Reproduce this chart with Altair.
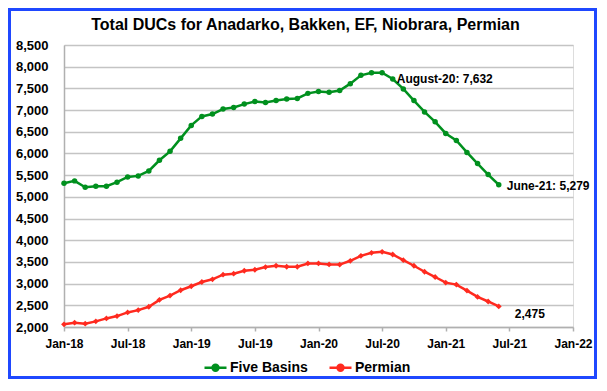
import altair as alt
import pandas as pd

# Month index 0 = Jan-18 ... 41 = Jun-21
five_basins = [5314, 5368, 5222, 5245, 5245, 5337, 5460, 5483, 5597, 5843, 6049, 6348,
               6647, 6854, 6908, 7023, 7061, 7138, 7199, 7176, 7222, 7253, 7268, 7385,
               7428, 7410, 7450, 7609, 7801, 7862, 7862, 7717, 7487, 7219, 6958, 6729,
               6461, 6300, 6024, 5766, 5513, 5279]
permian = [2061, 2099, 2076, 2130, 2198, 2252, 2336, 2389, 2466, 2626, 2725, 2847,
           2939, 3038, 3099, 3206, 3229, 3297, 3320, 3381, 3412, 3389, 3389, 3465,
           3465, 3442, 3438, 3526, 3640, 3709, 3732, 3671, 3541, 3412, 3274, 3152,
           3022, 2977, 2839, 2694, 2588, 2475]
series_names = ["Five Basins", "Permian"]
series_colors = ["#00901e", "#ff2a1f"]
tick_labels = ["Jan-18", "Jul-18", "Jan-19", "Jul-19", "Jan-20", "Jul-20",
               "Jan-21", "Jul-21", "Jan-22"]
y_ticks = [2000, 2500, 3000, 3500, 4000, 4500, 5000, 5500, 6000, 6500, 7000, 7500, 8000, 8500]
title_text = "Total DUCs for Anadarko, Bakken, EF, Niobrara, Permian"
ann_peak = ("August-20: 7,632", 31)
ann_end_five = ("June-21: 5,279", 41)
ann_end_perm = ("2,475", 41)

rows = []
for i, v in enumerate(five_basins):
    rows.append({"m": i, "v": v, "s": series_names[0]})
for i, v in enumerate(permian):
    rows.append({"m": i, "v": v, "s": series_names[1]})
df = pd.DataFrame(rows)

W, H = 509, 282
FONT = "Liberation Sans"
label_expr = "[" + ",".join(f"'{t}'" for t in tick_labels) + "][round(datum.value/6)]"

x_enc = alt.X("m:Q", scale=alt.Scale(domain=[0, 48], nice=False, zero=False),
              axis=alt.Axis(values=list(range(0, 49, 6)), labelExpr=label_expr, title=None,
                            grid=False, tickSize=4, tickColor="#b0b0b0", tickWidth=1.5,
                            domainColor="#b0b0b0", domainWidth=1.5, labelFlush=False,
                            labelOverlap=False,
                            labelFont=FONT, labelFontSize=12, labelFontWeight="bold",
                            labelColor="black", labelPadding=7))
y_enc = alt.Y("v:Q", scale=alt.Scale(domain=[2000, 8500], nice=False, zero=False),
              axis=alt.Axis(values=y_ticks, format=",.0f", title=None, grid=True,
                            gridColor="#c4c4c4", gridWidth=1.5, tickSize=0,
                            domainColor="#b0b0b0", domainWidth=1.5, labelFlush=False,
                            labelOverlap=False,
                            labelFont=FONT, labelFontSize=13, labelFontWeight="bold",
                            labelColor="black", labelPadding=16))
legend_symbol = "M-1,0H1 M-0.27,0 A0.27,0.27 0 1,0 0.27,0 A0.27,0.27 0 1,0 -0.27,0 Z"
color_enc = alt.Color("s:N", scale=alt.Scale(domain=series_names, range=series_colors),
                      legend=alt.Legend(title=None, orient="none", direction="horizontal",
                                        legendX=139, legendY=310, symbolType=legend_symbol,
                                        symbolSize=484, symbolStrokeWidth=2.5,
                                        labelFont=FONT, labelFontSize=14,
                                        labelFontWeight="bold", labelColor="black",
                                        labelOffset=2, columnPadding=16))
color_nolegend = alt.Color("s:N", scale=alt.Scale(domain=series_names, range=series_colors),
                           legend=None)

base = alt.Chart(df)
lines = base.mark_line(strokeWidth=2.5).encode(x=x_enc, y=y_enc, color=color_enc)
pts_five = base.transform_filter(alt.datum.s == series_names[0]).mark_point(
    filled=True, shape="circle", size=30, opacity=1).encode(
    x=x_enc, y=y_enc, color=color_nolegend)
pts_perm = base.transform_filter(alt.datum.s == series_names[1]).mark_point(
    filled=True, shape="diamond", size=34, opacity=1).encode(
    x=x_enc, y=y_enc, color=color_nolegend)

ann_df = pd.DataFrame([
    {"t": ann_peak[0], "m": ann_peak[1], "v": five_basins[ann_peak[1]], "k": "peak"},
    {"t": ann_end_five[0], "m": ann_end_five[1], "v": five_basins[ann_end_five[1]], "k": "five"},
    {"t": ann_end_perm[0], "m": ann_end_perm[1], "v": permian[ann_end_perm[1]], "k": "perm"},
])
ann_base = alt.Chart(ann_df)
txt_style = dict(font=FONT, fontSize=12, fontWeight="bold", color="black",
                 align="left", baseline="middle")
t1 = ann_base.transform_filter(alt.datum.k == "peak").mark_text(dx=4, dy=0, **txt_style).encode(
    x=x_enc, y=y_enc, text="t:N")
t2 = ann_base.transform_filter(alt.datum.k == "five").mark_text(dx=8, dy=1, **txt_style).encode(
    x=x_enc, y=y_enc, text="t:N")
t3 = ann_base.transform_filter(alt.datum.k == "perm").mark_text(dx=16, dy=8, **txt_style).encode(
    x=x_enc, y=y_enc, text="t:N")

PAD_L, PAD_T, PAD_R, PAD_B = 56, 37, 24, 52
one = pd.DataFrame({"t": [title_text]})
title_mark = alt.Chart(one).mark_text(
    font=FONT, fontSize=16, fontWeight="bold", color="black",
    align="center", baseline="alphabetic").encode(
    text="t:N", x=alt.value(W / 2 - 13), y=alt.value(-15))
border = alt.Chart(one).mark_rect(
    fill="transparent", stroke="#1f48ff", strokeWidth=3).encode(
    x=alt.value(-PAD_L + 1.5), x2=alt.value(W + PAD_R - 1.5),
    y=alt.value(-PAD_T + 1.5), y2=alt.value(H + PAD_B - 1.5))

chart = alt.layer(lines, pts_five, pts_perm, t1, t2, t3, title_mark, border).properties(
    width=W, height=H,
    autosize=alt.AutoSizeParams(type="none"),
    padding={"left": PAD_L, "top": PAD_T, "right": PAD_R, "bottom": PAD_B},
).configure_view(stroke=None).configure(background="white")

chart.save("out.html", embed_options={"renderer": "svg", "actions": False})
